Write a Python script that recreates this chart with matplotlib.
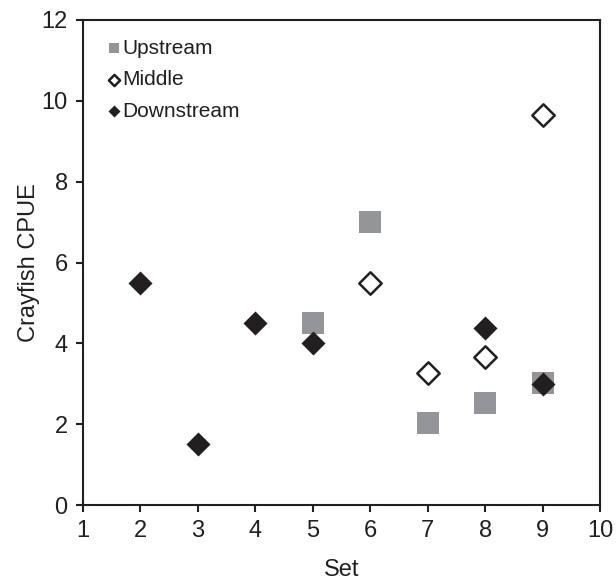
import numpy as np
import matplotlib.pyplot as plt

plt.rcParams['font.family'] = ['Liberation Sans', 'DejaVu Sans']

up_x = [5, 6, 7, 8, 9]
up_y = [4.5, 7.0, 2.03, 2.52, 3.02]

mid_x = [6, 7, 8, 9]
mid_y = [5.5, 3.27, 3.66, 9.65]

down_x = [2, 3, 4, 5, 8, 9]
down_y = [5.5, 1.5, 4.5, 4.0, 4.38, 3.0]

dark = '#231f20'

fig = plt.figure(figsize=(6.16, 5.83), dpi=100)
ax = fig.add_axes([83 / 616, 78 / 583, 517 / 616, 485 / 583])

ax.scatter(up_x, up_y, marker='s', s=250, color='#939598', linewidths=0, label='Upstream', zorder=2)
ax.scatter(mid_x, mid_y, marker='D', s=130, facecolor='white', edgecolor=dark, linewidths=1.8, label='Middle', zorder=3)
ax.scatter(down_x, down_y, marker='D', s=150, color=dark, linewidths=0, label='Downstream', zorder=4)

ax.set_xlim(1, 10)
ax.set_ylim(0, 12)
ax.set_xticks(np.arange(1, 11))
ax.set_yticks(np.arange(0, 13, 2))
ax.tick_params(direction='out', length=5, width=1.5, color=dark, labelsize=17, labelcolor=dark, pad=6)
for sp in ax.spines.values():
    sp.set_color(dark)
    sp.set_linewidth(1.5)

ax.set_xlabel('Set', fontsize=17, color=dark, labelpad=12)
ax.set_ylabel('Crayfish CPUE', fontsize=17, color=dark, labelpad=1)

leg = ax.legend(loc='upper left', frameon=False, fontsize=15, handletextpad=-0.2,
                markerscale=0.5, borderaxespad=0.5, labelspacing=0.6, handlelength=1.2,
                labelcolor=dark)

fig.savefig('out.png', dpi=100)
